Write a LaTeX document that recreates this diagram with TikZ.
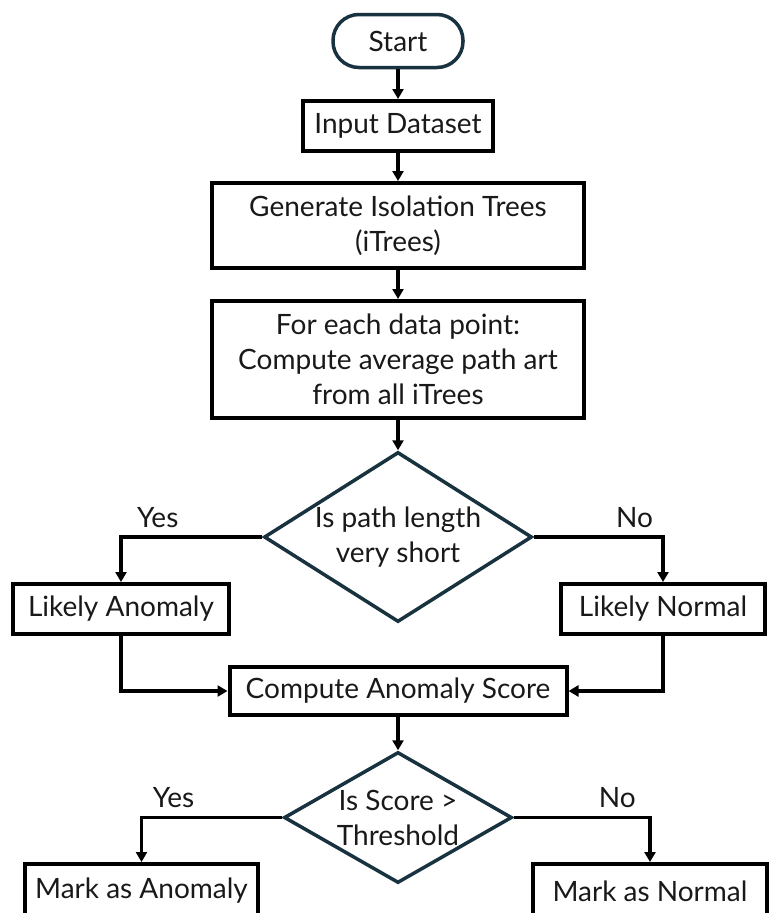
\documentclass[tikz,border=0pt]{standalone}
\usepackage{fontspec}
\setmainfont{Lato}
\usepackage{tikz}
\usetikzlibrary{shapes.geometric, arrows.meta}
\definecolor{slate}{HTML}{18323F}
\tikzstyle{startstop} = [rectangle, rounded corners=26pt, minimum width=130pt, minimum height=53pt, text centered, draw=slate, line width=3.5pt]
\tikzstyle{process} = [rectangle, minimum height=50pt, text centered, align=center, draw=black, line width=4pt, inner sep=0pt]
\tikzstyle{decision} = [diamond, text centered, align=center, draw=slate, line width=3.5pt, inner sep=0pt]
\tikzstyle{arrow} = [line width=3.5pt, -{Triangle[width=11pt,length=10pt]}]
\tikzstyle{lbl} = [above, inner sep=8pt]

\begin{document}
\begin{tikzpicture}[x=1pt, y=1pt, node distance=85pt, font=\fontsize{28}{35}\selectfont, text=black!90]
      \useasboundingbox (0,0) rectangle (769,-913);
      \node (start)   [startstop] at (398,-41)                                   {Start};
      \node (input)   [process, minimum width=190pt, below of=start]             {Input Dataset};
      \node (gen)     [process, minimum width=372pt, minimum height=85pt, below of=input, yshift=-14.5pt]   {Generate Isolation Trees\\(iTrees)};
      \node (avg)     [process, minimum width=372pt, minimum height=117pt, below of=gen, yshift=-49pt]      {For each data point:\\Compute average path art\\from all iTrees};
      \node (short)   [decision, aspect=1.58, minimum width=268pt, minimum height=170pt, below of=avg, yshift=-92.5pt] {Is path length\\very short};

      \node (lanom)   [process, minimum width=216pt, left of=short, xshift=-192pt, yshift=-72pt]   {Likely Anomaly};
      \node (lnorm)   [process, minimum width=204pt, right of=short, xshift=180pt, yshift=-72pt]   {Likely Normal};

      \node (score)   [process, minimum width=337pt, minimum height=48pt, below of=short, yshift=-69pt] {Compute Anomaly Score};
      \node (thresh)  [decision, aspect=1.74, minimum width=228pt, minimum height=131pt, below of=score, yshift=-41.5pt] {Is Score >\\Threshold};

      \node (manom)   [process, minimum width=233pt, minimum height=54pt, left of=thresh, xshift=-171.5pt, yshift=-73.5pt] {Mark as Anomaly};
      \node (mnorm)   [process, minimum width=234pt, minimum height=54pt, right of=thresh, xshift=167pt, yshift=-73.5pt]  {Mark as Normal};

      \draw [arrow] (start)  -- (input);
      \draw [arrow] (input)  -- (gen);
      \draw [arrow] (gen)    -- (avg);
      \draw [arrow] (avg)    -- (short);
      \draw [arrow] (short.west) -| node[lbl, pos=0.37] {Yes} (lanom);
      \draw [arrow] (short.east) -| node[lbl, pos=0.39] {No}  (lnorm);
      \draw [arrow] (lanom)  |- (score.west);
      \draw [arrow] (lnorm)  |- (score.east);
      \draw [arrow] (score)  -- (thresh);
      \draw [arrow] (thresh.west) -| node[lbl, pos=0.386] {Yes} (manom);
      \draw [arrow] (thresh.east) -| node[lbl, pos=0.38]  {No}  (mnorm);
    \end{tikzpicture}
\end{document}
